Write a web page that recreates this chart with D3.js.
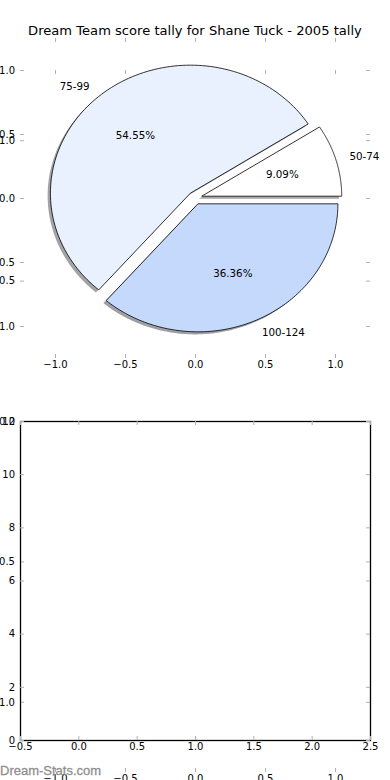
<!doctype html>
<html lang="en">
<head>
<meta charset="utf-8">
<title>Dream Team score tally</title>
<style>
  body { margin: 0; background: #fff; }
  svg { display: block; font-family: "DejaVu Sans", sans-serif; }
  .tick line { stroke: #b0b0b0; }
  .tick text { fill: #000; font-size: 10px; }
</style>
</head>
<body>
<div id="chart"></div>
<script src="https://d3js.org/d3.v7.min.js"></script>
<script>
// data
var categories = ["50-74", "75-99", "100-124"];
var counts = [1, 6, 4];
var colours = ["#ffffff", "#eaf1fe", "#c5d9fd"];
var title = "Dream Team score tally for Shane Tuck - 2005 tally";
var pieTicks = [-1.0, -0.5, 0.0, 0.5, 1.0];
var barXTicks = [-0.5, 0.0, 0.5, 1.0, 1.5, 2.0, 2.5];
var barYTicks = [0, 2, 4, 6, 8, 10, 12];

var W = 390, H = 780;
var explode = 0.05, labelDist = 1.1, pctDist = 0.6;

var svg = d3.select("#chart").append("svg")
    .attr("width", W).attr("height", H);

var fmt = d3.format(".1f");

// pie axes (top)
var x = d3.scaleLinear().domain([-1.25, 1.25]).range([20, 370]);
var y = d3.scaleLinear().domain([-1.25, 1.25]).range([358, 38]);
// second empty axes spanning most of the figure
var y2 = d3.scaleLinear().domain([-1.25, 1.25]).range([772, 70]);
// bottom framed axes
var bx = d3.scaleLinear().domain([-0.5, 2.5]).range([20, 370]);
var by = d3.scaleLinear().domain([0, 12]).range([740, 421]);

function tickAxes(g, xs, ys, xt, yt, xf, yf) {
    var x0 = xs.range()[0], x1 = xs.range()[1];
    var y0 = ys.range()[0], y1 = ys.range()[1];
    g.append("g").attr("transform", "translate(0," + y0 + ")")
        .call(d3.axisBottom(xs).tickValues(xt).tickFormat(xf).tickSize(-4).tickPadding(3));
    g.append("g").attr("transform", "translate(0," + y1 + ")")
        .call(d3.axisTop(xs).tickValues(xt).tickFormat("").tickSize(-4));
    g.append("g").attr("transform", "translate(" + x0 + ",0)")
        .call(d3.axisLeft(ys).tickValues(yt).tickFormat(yf).tickSize(-4).tickPadding(5));
    g.append("g").attr("transform", "translate(" + x1 + ",0)")
        .call(d3.axisRight(ys).tickValues(yt).tickFormat("").tickSize(-4));
    g.selectAll(".domain").remove();
    g.selectAll("g").attr("font-family", null).attr("font-size", null);
}

// empty full-height axes
var ax2 = svg.append("g");
tickAxes(ax2, x, y2, pieTicks, pieTicks, fmt, fmt);

// bottom axes
var ax3 = svg.append("g");
ax3.append("rect")
    .attr("x", bx.range()[0] + 0.5).attr("y", by.range()[1] + 0.5)
    .attr("width", bx.range()[1] - bx.range()[0])
    .attr("height", by.range()[0] - by.range()[1])
    .attr("fill", "none").attr("stroke", "#000").attr("stroke-width", 1.3);
tickAxes(ax3, bx, by, barXTicks, barYTicks, fmt, d3.format("d"));

// pie axes
var ax1 = svg.append("g");
tickAxes(ax1, x, y, pieTicks, pieTicks, fmt, fmt);

var total = d3.sum(counts);
var arcs = d3.pie().sort(null).startAngle(0).endAngle(2 * Math.PI)(counts);
arcs.forEach(function (d, i) {
    d.name = categories[i];
    d.colour = colours[i];
    d.mid = (d.startAngle + d.endAngle) / 2;
    d.ox = explode * Math.cos(d.mid);
    d.oy = explode * Math.sin(d.mid);
});

function wedgePoints(d, dx, dy) {
    var pts = [[d.ox + dx, d.oy + dy]];
    var n = 120;
    for (var k = 0; k <= n; k++) {
        var t = d.startAngle + (d.endAngle - d.startAngle) * k / n;
        pts.push([d.ox + dx + Math.cos(t), d.oy + dy + Math.sin(t)]);
    }
    return pts;
}

var line = d3.line()
    .x(function (p) { return x(p[0]); })
    .y(function (p) { return y(p[1]); });

// shadows behind all wedges
ax1.selectAll(".shadow").data(arcs).enter().append("path")
    .attr("class", "shadow")
    .attr("d", function (d) { return line(wedgePoints(d, -0.02, -0.02)) + "Z"; })
    .attr("fill", function (d) {
        var c = d3.rgb(d.colour);
        return d3.rgb(c.r * 0.3, c.g * 0.3, c.b * 0.3).toString();
    })
    .attr("fill-opacity", 0.5);

ax1.selectAll(".wedge").data(arcs).enter().append("path")
    .attr("class", "wedge")
    .attr("d", function (d) { return line(wedgePoints(d, 0, 0)) + "Z"; })
    .attr("fill", function (d) { return d.colour; })
    .attr("stroke", "#000").attr("stroke-width", 0.8)
    .attr("stroke-linejoin", "miter");

ax1.selectAll(".lab").data(arcs).enter().append("text")
    .attr("x", function (d) { return x(d.ox + labelDist * Math.cos(d.mid)); })
    .attr("y", function (d) { return y(d.oy + labelDist * Math.sin(d.mid)); })
    .attr("dy", "0.35em")
    .attr("text-anchor", function (d) { return Math.cos(d.mid) > 0 ? "start" : "end"; })
    .attr("font-size", 10.3)
    .text(function (d) { return d.name; });

ax1.selectAll(".pct").data(arcs).enter().append("text")
    .attr("x", function (d) { return x(d.ox + pctDist * Math.cos(d.mid)); })
    .attr("y", function (d) { return y(d.oy + pctDist * Math.sin(d.mid)); })
    .attr("dy", "0.35em")
    .attr("text-anchor", "middle")
    .attr("font-size", 10.3)
    .text(function (d) { return (100 * d.value / total).toFixed(2) + "%"; });

svg.append("text")
    .attr("x", x(0)).attr("y", 30).attr("dy", "0.35em")
    .attr("text-anchor", "middle").attr("font-size", 13.1)
    .text(title);

svg.append("text")
    .attr("x", 0).attr("y", 775)
    .attr("font-family", "'Liberation Sans', Arial, sans-serif")
    .attr("font-size", 13).attr("fill", "#8f8f8f")
    .attr("stroke", "#8f8f8f").attr("stroke-width", 0.3)
    .text("Dream-Stats.com");
</script>
</body>
</html>
